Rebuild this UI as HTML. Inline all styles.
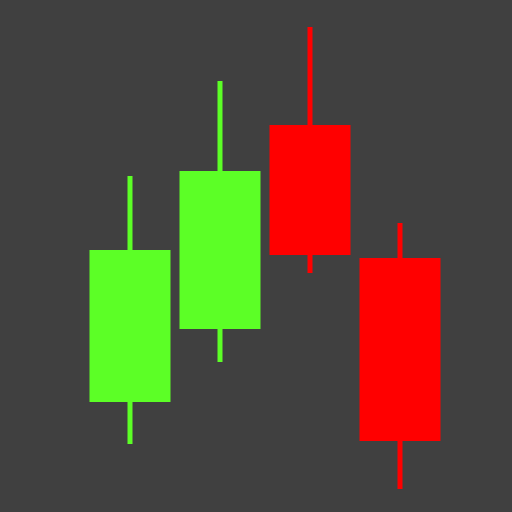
<!DOCTYPE html>
<html>
<head>
<meta charset="utf-8">
<style>
  html,body{margin:0;padding:0;background:#404040;}
  svg{display:block;}
</style>
</head>
<body>
<svg id="chart" width="512" height="512" viewBox="0 0 512 512">
  <rect x="0" y="0" width="512" height="512" fill="#404040"/>
</svg>
<script>
const categories = ["c1", "c2", "c3", "c4"];
const openValues = [110, 183, 387, 254];
const closeValues = [262, 341, 257, 71];
const highValues = [336, 431, 485, 289];
const lowValues = [68, 150, 239, 23];

const svgNS = "http://www.w3.org/2000/svg";
const svg = document.getElementById("chart");
function yScale(v) { return 512 - v; }
function xCenter(i) { return 130 + i * 90; }
const bodyW = 81;

categories.forEach((c, i) => {
  const up = closeValues[i] >= openValues[i];
  const color = up ? "#5cff26" : "#ff0000";
  const cx = xCenter(i);
  const wick = document.createElementNS(svgNS, "line");
  wick.setAttribute("x1", cx);
  wick.setAttribute("x2", cx);
  wick.setAttribute("y1", yScale(highValues[i]));
  wick.setAttribute("y2", yScale(lowValues[i]));
  wick.setAttribute("stroke", color);
  wick.setAttribute("stroke-width", 5);
  
  
  svg.appendChild(wick);
  const top = yScale(Math.max(openValues[i], closeValues[i]));
  const bot = yScale(Math.min(openValues[i], closeValues[i]));
  const body = document.createElementNS(svgNS, "rect");
  body.setAttribute("x", cx - bodyW / 2);
  body.setAttribute("y", top);
  body.setAttribute("width", bodyW);
  body.setAttribute("height", bot - top);
  body.setAttribute("fill", color);
  
  
  svg.appendChild(body);
});
</script>
</body>
</html>
